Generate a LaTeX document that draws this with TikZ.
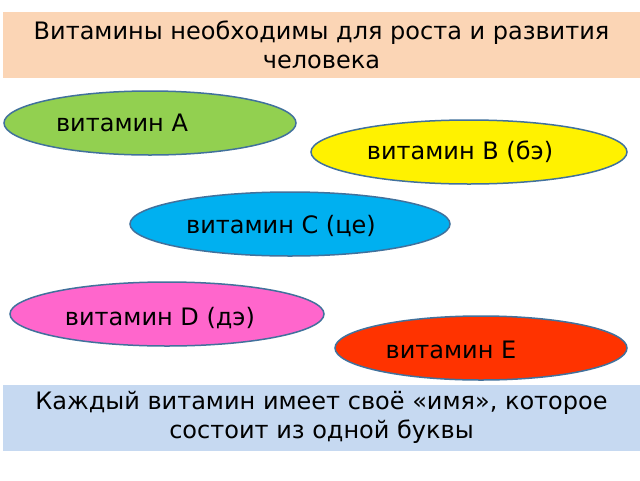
\documentclass[tikz,border=0pt]{standalone}
\usepackage{fontspec}
\setmainfont{DejaVu Sans}
\usetikzlibrary{shapes.geometric}
\definecolor{peach}{HTML}{FBD5B5}
\definecolor{paleblue}{HTML}{C6D9F1}
\definecolor{vgreen}{HTML}{92D050}
\definecolor{vblue}{HTML}{00B0F0}
\definecolor{vpink}{HTML}{FF66CC}
\definecolor{vred}{HTML}{FF3300}
\definecolor{rim}{HTML}{41719C}
\begin{document}
\begin{tikzpicture}[x=1pt,y=-1pt,font=\fontsize{24}{29}\selectfont]
  \tikzstyle{banner}=[rectangle,minimum width=637,minimum height=66,align=center,inner sep=0pt]
  \tikzstyle{vitamin}=[ellipse,draw=rim,line width=1.5pt,minimum height=64]
  \useasboundingbox (0,0) rectangle (640,480);
  \fill[white] (0,0) rectangle (640,480);
  \node [banner,fill=peach] (head) at (321.5,45) {Витамины необходимы для роста и развития\\ человека};
  \node [banner,fill=paleblue] (foot) at (321.5,417.5) {Каждый витамин имеет своё «имя», которое\\ состоит из одной буквы};
  \node [vitamin,fill=vgreen,minimum width=292] (va) at (150,123) {}; %A
  \node (ta) at (122,123) {витамин А};
  \node [vitamin,fill=yellow,minimum width=316] (vb) at (469,152) {}; %B
  \node (tb) at (460,152) {витамин В (бэ)};
  \node [vitamin,fill=vblue,minimum width=320] (vc) at (290,224) {}; %C
  \node (tc) at (281,226) {витамин С (це)};
  \node [vitamin,fill=vpink,minimum width=314] (vd) at (167,314) {}; %D
  \node (td) at (160,318) {витамин D (дэ)};
  \node [vitamin,fill=vred,minimum width=292] (ve) at (481,348) {}; %E
  \node (te) at (451,350) {витамин Е};
\end{tikzpicture}
\end{document}
